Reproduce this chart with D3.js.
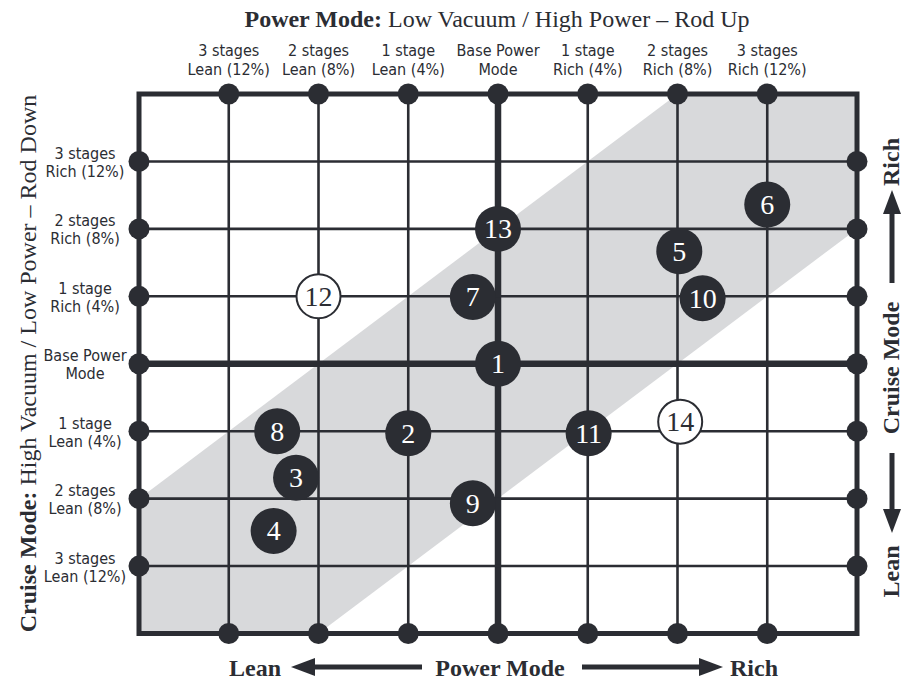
<!DOCTYPE html>
<html>
<head>
<meta charset="utf-8">
<script src="https://cdn.jsdelivr.net/npm/d3@7"></script>
<style>
  html, body { margin: 0; padding: 0; background: #ffffff; }
  svg { display: block; }
</style>
</head>
<body>
<svg id="chart" width="905" height="681"></svg>
<script>
// ---------------- DATA ----------------
const levels = [-3, -2, -1, 0, 1, 2, 3];
const powerLabels = [
  ["3 stages", "Lean (12%)"],
  ["2 stages", "Lean (8%)"],
  ["1 stage", "Lean (4%)"],
  ["Base Power", "Mode"],
  ["1 stage", "Rich (4%)"],
  ["2 stages", "Rich (8%)"],
  ["3 stages", "Rich (12%)"]
];
const cruiseLabels = [
  ["3 stages", "Lean (12%)"],
  ["2 stages", "Lean (8%)"],
  ["1 stage", "Lean (4%)"],
  ["Base Power", "Mode"],
  ["1 stage", "Rich (4%)"],
  ["2 stages", "Rich (8%)"],
  ["3 stages", "Rich (12%)"]
];
const pointIds    = [1, 2, 3, 4, 5, 6, 7, 8, 9, 10, 11, 12, 13, 14];
const pointPower  = [0, -1, -2.25, -2.5, 2.02, 3.0, -0.28, -2.46, -0.28, 2.28, 1.01, -2, 0, 2.03];
const pointCruise = [0, -1.03, -1.69, -2.48, 1.67, 2.36, 0.99, -1.0, -2.07, 0.97, -1.03, 1, 2, -0.86];
const pointOpen   = [false, false, false, false, false, false, false, false, false, false, false, true, false, true];
const bandHalfWidth = 2;   // shaded band: |cruise - power| <= 2 stages
const titleBold = "Power Mode:";
const titleRest = " Low Vacuum / High Power \u2013 Rod Up";
const yTitleBold = "Cruise Mode:";
const yTitleRest = " High Vacuum / Low Power \u2013 Rod Down";

// ---------------- STYLE ----------------
const DARK = "#2b2d33";
const GRAY = "#d8d9db";
const SERIF = "'Liberation Serif', 'Times New Roman', serif";
const COND = "'Liberation Sans Narrow', 'DejaVu Sans Condensed', 'Arial Narrow', sans-serif";

const svg = d3.select("#chart");
const x = d3.scaleLinear().domain([-4, 4]).range([139, 857]);
const y = d3.scaleLinear().domain([-4, 4]).range([633.5, 94]);

// shaded band
const w = bandHalfWidth;
const bandPts = [[-4, -4], [-4 + w, -4], [4, 4 - w], [4, 4], [4 - w, 4], [-4, -4 + w]];
svg.append("polygon")
  .attr("points", bandPts.map(p => [x(p[0]), y(p[1])].join(",")).join(" "))
  .attr("fill", GRAY);

// grid lines
const grid = svg.append("g");
grid.selectAll("line.v").data(levels).join("line")
  .attr("x1", d => x(d)).attr("x2", d => x(d))
  .attr("y1", y(4)).attr("y2", y(-4))
  .attr("stroke", DARK).attr("stroke-width", d => d === 0 ? 6.5 : 2.6);
grid.selectAll("line.h").data(levels).join("line")
  .attr("y1", d => y(d)).attr("y2", d => y(d))
  .attr("x1", x(-4)).attr("x2", x(4))
  .attr("stroke", DARK).attr("stroke-width", d => d === 0 ? 6.5 : 2.6);

// frame
svg.append("rect")
  .attr("x", x(-4)).attr("y", y(4))
  .attr("width", x(4) - x(-4)).attr("height", y(-4) - y(4))
  .attr("fill", "none").attr("stroke", DARK).attr("stroke-width", 5);

// border dots
const dotsG = svg.append("g").attr("fill", DARK);
levels.forEach(l => {
  [[x(l), y(4)], [x(l), y(-4)], [x(-4), y(l)], [x(4), y(l)]].forEach(p => {
    dotsG.append("circle").attr("cx", p[0]).attr("cy", p[1]).attr("r", 10.5);
  });
});

// data points
const pts = pointIds.map((id, i) => ({id, px: pointPower[i], cy: pointCruise[i], open: pointOpen[i]}));
const pg = svg.append("g").selectAll("g").data(pts).join("g")
  .attr("transform", d => `translate(${x(d.px)},${y(d.cy)})`);
pg.append("circle").attr("r", d => d.open ? 22 : 23)
  .attr("fill", d => d.open ? "#ffffff" : DARK)
  .attr("stroke", DARK).attr("stroke-width", d => d.open ? 2 : 0);
pg.append("text").text(d => d.id)
  .attr("text-anchor", "middle").attr("y", 9.5)
  .attr("font-family", SERIF).attr("font-size", 28)
  .attr("fill", d => d.open ? DARK : "#ffffff");

// top column labels
const topLabels = svg.append("g").attr("font-family", COND).attr("font-size", 16)
  .attr("fill", DARK).attr("text-anchor", "middle");
levels.forEach((l, i) => {
  const t = topLabels.append("text");
  t.append("tspan").attr("x", x(l)).attr("y", 56).text(powerLabels[i][0]);
  t.append("tspan").attr("x", x(l)).attr("y", 74.5).text(powerLabels[i][1]);
});

// left row labels
const leftLabels = svg.append("g").attr("font-family", COND).attr("font-size", 16)
  .attr("fill", DARK).attr("text-anchor", "middle");
levels.forEach((l, i) => {
  const t = leftLabels.append("text");
  t.append("tspan").attr("x", 85).attr("y", y(l) - 2.5).text(cruiseLabels[i][0]);
  t.append("tspan").attr("x", 85).attr("y", y(l) + 15.5).text(cruiseLabels[i][1]);
});

// title
const title = svg.append("text").attr("x", 497).attr("y", 27)
  .attr("text-anchor", "middle").attr("font-family", SERIF).attr("font-size", 24).attr("fill", DARK);
title.append("tspan").attr("font-weight", "bold").text(titleBold);
title.append("tspan").text(titleRest);

// left rotated title
const lt = svg.append("text").attr("transform", "translate(36,363.5) rotate(-90)")
  .attr("text-anchor", "middle").attr("font-family", SERIF).attr("font-size", 24).attr("fill", DARK);
lt.append("tspan").attr("font-weight", "bold").text(yTitleBold);
lt.append("tspan").text(yTitleRest);

// arrow helper (horizontal in local coords, from x0 to tip x1)
function arrow(g, x0, x1, yc) {
  const dir = Math.sign(x1 - x0);
  const head = 24, hw = 9, sw = 5;
  const hb = x1 - dir * head;
  g.append("line").attr("x1", x0).attr("x2", hb + dir * 1).attr("y1", yc).attr("y2", yc)
    .attr("stroke", DARK).attr("stroke-width", sw);
  g.append("polygon").attr("points", `${x1},${yc} ${hb},${yc - hw} ${hb},${yc + hw}`).attr("fill", DARK);
}

// bottom axis label
const bottomG = svg.append("g");
const bt = bottomG.append("g").attr("font-family", SERIF).attr("font-weight", "bold")
  .attr("font-size", 24).attr("fill", DARK).attr("text-anchor", "middle");
bt.append("text").attr("x", 255).attr("y", 676).text("Lean");
bt.append("text").attr("x", 500).attr("y", 676).text("Power Mode");
bt.append("text").attr("x", 754).attr("y", 676).text("Rich");
arrow(bottomG, 422, 291, 667);
arrow(bottomG, 582, 723, 667);

// right axis label (rotated)
const rightG = svg.append("g").attr("transform", "translate(899,0) rotate(-90)");
const rt = rightG.append("g").attr("font-family", SERIF).attr("font-weight", "bold")
  .attr("font-size", 24).attr("fill", DARK).attr("text-anchor", "middle");
rt.append("text").attr("x", -162).attr("y", 0).text("Rich");
rt.append("text").attr("x", -368).attr("y", 0).text("Cruise Mode");
rt.append("text").attr("x", -571.5).attr("y", 0).text("Lean");
arrow(rightG, -283, -190, -7);
arrow(rightG, -453, -533, -7);
</script>
</body>
</html>
